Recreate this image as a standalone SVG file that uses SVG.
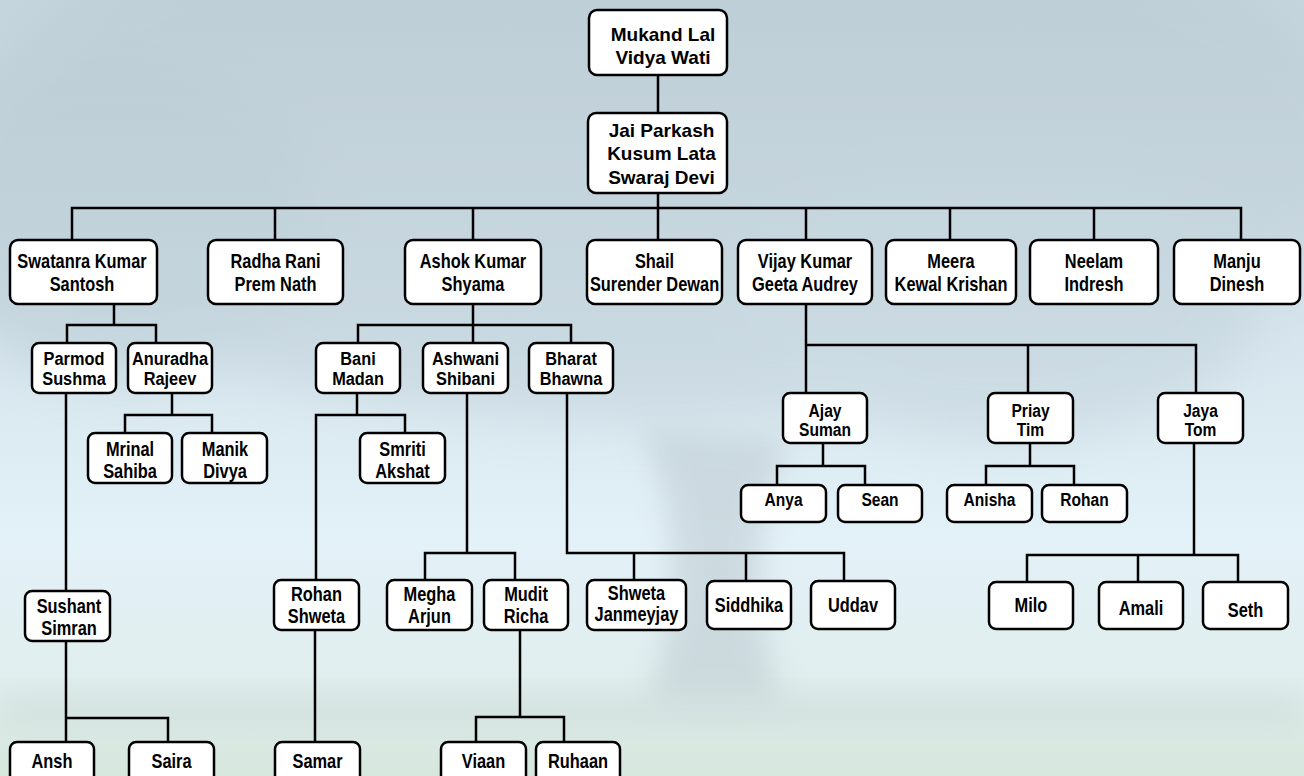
<svg xmlns="http://www.w3.org/2000/svg" width="1304" height="776" viewBox="0 0 1304 776">
<style>
.box{fill:#fff;stroke:#000;stroke-width:2.5}
.t{font-family:"Liberation Sans",Arial,sans-serif;font-weight:bold;font-size:20px;text-anchor:middle;fill:#000}
.s{font-size:19px}
.w{font-size:19px}
.c{fill:none;stroke:#000;stroke-width:2.5;stroke-linecap:square}
</style>
<defs>
<linearGradient id="sky" x1="0" y1="0" x2="0" y2="1">
<stop offset="0" stop-color="#c6d6de"/>
<stop offset="0.4" stop-color="#d5e4ec"/>
<stop offset="0.7" stop-color="#e3f1f8"/>
<stop offset="0.88" stop-color="#e0eeee"/>
<stop offset="1" stop-color="#d6e7dd"/>
</linearGradient>
<filter id="blur" x="-20%" y="-20%" width="140%" height="140%"><feGaussianBlur stdDeviation="25"/></filter>
<filter id="blur2" x="-30%" y="-30%" width="160%" height="160%"><feGaussianBlur stdDeviation="14"/></filter>
</defs>
<g id="background">
<rect width="1304" height="776" fill="url(#sky)"/>
<g filter="url(#blur)" opacity="0.35">
<ellipse cx="660" cy="150" rx="720" ry="270" fill="#b2c3cc"/>
<ellipse cx="120" cy="220" rx="200" ry="160" fill="#a9bbc4"/>
<ellipse cx="1000" cy="300" rx="260" ry="140" fill="#b6c7cf"/>
</g>
<path d="M640 430 C680 500 680 600 650 700 L780 700 C755 610 750 520 790 440 Z" fill="#b8c6cc" opacity="0.5" filter="url(#blur2)"/>
<rect x="0" y="690" width="1304" height="40" fill="#cbd9d5" opacity="0.45" filter="url(#blur2)"/>
</g>
<g id="connectors">
<path class="c" d="M658 75V113 M658 193V240 M72 208H1241 M72 208V240 M275 208V240 M473 208V240 M806 208V240 M950 208V240 M1094 208V240 M1241 208V240
M114 304V325 M67 325H156 M67 325V343 M156 325V343
M66 393V591
M172 393V415 M125 415H212 M125 415V433 M212 415V433
M66 641V718 M66 718H168 M66 718V742 M168 718V742
M473 304V343 M358 325H571 M358 325V343 M571 325V343
M357 393V415 M316 415H405 M316 415V580 M405 415V433
M315 630V742
M467 393V553 M425 553H515 M425 553V580 M515 553V580
M520 630V717 M476 717H564 M476 717V742 M564 717V742
M567 393V553 M567 553H844 M634 553V580 M746 553V581 M844 553V581
M806 304V393 M806 345H1196 M1028 345V393 M1196 345V393
M823 443V466 M777 466H865 M777 466V485 M865 466V485
M1030 443V466 M986 466H1074 M986 466V485 M1074 466V485
M1194 443V555 M1027 555H1238 M1027 555V582 M1138 555V582 M1238 555V582"/>
</g>
<g id="n-mukand"><rect class="box" x="589" y="10" width="138" height="65" rx="8"/><text class="t w"><tspan x="663" y="40.5">Mukand Lal</tspan><tspan x="663" y="64">Vidya Wati</tspan></text></g>
<g id="n-jai"><rect class="box" x="588" y="113" width="139" height="80" rx="8"/><text class="t w"><tspan x="661.5" y="137">Jai Parkash</tspan><tspan x="661.5" y="160">Kusum Lata</tspan><tspan x="661.5" y="183.5">Swaraj Devi</tspan></text></g>
<g id="n-swatanra"><rect class="box" x="10" y="240" width="147" height="64" rx="8"/><text class="t" transform="matrix(0.82 0 0 1 82 0)"><tspan x="0" y="268.5">Swatanra Kumar</tspan><tspan x="0" y="291.5">Santosh</tspan></text></g>
<g id="n-radha"><rect class="box" x="208" y="240" width="135" height="64" rx="8"/><text class="t" transform="matrix(0.82 0 0 1 275.5 0)"><tspan x="0" y="268.5">Radha Rani</tspan><tspan x="0" y="291.5">Prem Nath</tspan></text></g>
<g id="n-ashok"><rect class="box" x="405" y="240" width="136" height="64" rx="8"/><text class="t" transform="matrix(0.82 0 0 1 473 0)"><tspan x="0" y="268.5">Ashok Kumar</tspan><tspan x="0" y="291.5">Shyama</tspan></text></g>
<g id="n-shail"><rect class="box" x="587" y="240" width="135" height="64" rx="8"/><text class="t" transform="matrix(0.82 0 0 1 654.5 0)"><tspan x="0" y="268.5">Shail</tspan><tspan x="0" y="291.5">Surender Dewan</tspan></text></g>
<g id="n-vijay"><rect class="box" x="738" y="240" width="134" height="64" rx="8"/><text class="t" transform="matrix(0.82 0 0 1 805 0)"><tspan x="0" y="268.5">Vijay Kumar</tspan><tspan x="0" y="291.5">Geeta Audrey</tspan></text></g>
<g id="n-meera"><rect class="box" x="886" y="240" width="130" height="64" rx="8"/><text class="t" transform="matrix(0.82 0 0 1 951 0)"><tspan x="0" y="268.5">Meera</tspan><tspan x="0" y="291.5">Kewal Krishan</tspan></text></g>
<g id="n-neelam"><rect class="box" x="1030" y="240" width="128" height="64" rx="8"/><text class="t" transform="matrix(0.82 0 0 1 1094 0)"><tspan x="0" y="268.5">Neelam</tspan><tspan x="0" y="291.5">Indresh</tspan></text></g>
<g id="n-manju"><rect class="box" x="1174" y="240" width="126" height="64" rx="8"/><text class="t" transform="matrix(0.82 0 0 1 1237 0)"><tspan x="0" y="268.5">Manju</tspan><tspan x="0" y="291.5">Dinesh</tspan></text></g>
<g id="n-parmod"><rect class="box" x="32" y="343" width="84" height="50" rx="7"/><text class="t s" transform="matrix(0.86 0 0 1 74 0)"><tspan x="0" y="365">Parmod</tspan><tspan x="0" y="385">Sushma</tspan></text></g>
<g id="n-anuradha"><rect class="box" x="128" y="343" width="84" height="50" rx="7"/><text class="t s" transform="matrix(0.86 0 0 1 170 0)"><tspan x="0" y="365">Anuradha</tspan><tspan x="0" y="385">Rajeev</tspan></text></g>
<g id="n-bani"><rect class="box" x="316" y="343" width="84" height="50" rx="7"/><text class="t s" transform="matrix(0.86 0 0 1 358 0)"><tspan x="0" y="365">Bani</tspan><tspan x="0" y="385">Madan</tspan></text></g>
<g id="n-ashwani"><rect class="box" x="423" y="343" width="85" height="50" rx="7"/><text class="t s" transform="matrix(0.86 0 0 1 465.5 0)"><tspan x="0" y="365">Ashwani</tspan><tspan x="0" y="385">Shibani</tspan></text></g>
<g id="n-bharat"><rect class="box" x="529" y="343" width="84" height="50" rx="7"/><text class="t s" transform="matrix(0.86 0 0 1 571 0)"><tspan x="0" y="365">Bharat</tspan><tspan x="0" y="385">Bhawna</tspan></text></g>
<g id="n-mrinal"><rect class="box" x="88" y="433" width="84" height="50" rx="7"/><text class="t" transform="matrix(0.82 0 0 1 130 0)"><tspan x="0" y="456.5">Mrinal</tspan><tspan x="0" y="478.5">Sahiba</tspan></text></g>
<g id="n-manik"><rect class="box" x="182" y="433" width="85" height="50" rx="7"/><text class="t" transform="matrix(0.82 0 0 1 225 0)"><tspan x="0" y="456.5">Manik</tspan><tspan x="0" y="478.5">Divya</tspan></text></g>
<g id="n-smriti"><rect class="box" x="360" y="433" width="85" height="50" rx="7"/><text class="t" transform="matrix(0.82 0 0 1 402.5 0)"><tspan x="0" y="456.5">Smriti</tspan><tspan x="0" y="478.5">Akshat</tspan></text></g>
<g id="n-sushant"><rect class="box" x="25" y="591" width="85" height="50" rx="7"/><text class="t" transform="matrix(0.82 0 0 1 69 0)"><tspan x="0" y="613.5">Sushant</tspan><tspan x="0" y="635.5">Simran</tspan></text></g>
<g id="n-rohan-shweta"><rect class="box" x="274" y="580" width="85" height="50" rx="7"/><text class="t" transform="matrix(0.82 0 0 1 316.5 0)"><tspan x="0" y="601.5">Rohan</tspan><tspan x="0" y="623.5">Shweta</tspan></text></g>
<g id="n-megha"><rect class="box" x="387" y="580" width="85" height="50" rx="7"/><text class="t" transform="matrix(0.82 0 0 1 429.5 0)"><tspan x="0" y="601.5">Megha</tspan><tspan x="0" y="623.5">Arjun</tspan></text></g>
<g id="n-mudit"><rect class="box" x="484" y="580" width="84" height="50" rx="7"/><text class="t" transform="matrix(0.82 0 0 1 526 0)"><tspan x="0" y="601.5">Mudit</tspan><tspan x="0" y="623.5">Richa</tspan></text></g>
<g id="n-shweta"><rect class="box" x="587" y="580" width="99" height="50" rx="7"/><text class="t" transform="matrix(0.82 0 0 1 636.5 0)"><tspan x="0" y="600.5">Shweta</tspan><tspan x="0" y="621.5">Janmeyjay</tspan></text></g>
<g id="n-siddhika"><rect class="box" x="707" y="581" width="84" height="48" rx="7"/><text class="t" transform="matrix(0.82 0 0 1 749 0)" x="0" y="612.5">Siddhika</text></g>
<g id="n-uddav"><rect class="box" x="811" y="581" width="84" height="48" rx="7"/><text class="t" transform="matrix(0.82 0 0 1 853 0)" x="0" y="612.5">Uddav</text></g>
<g id="n-ajay"><rect class="box" x="783" y="393" width="84" height="50" rx="7"/><text class="t s" transform="matrix(0.82 0 0 1 825 0)"><tspan x="0" y="417">Ajay</tspan><tspan x="0" y="436.5">Suman</tspan></text></g>
<g id="n-priay"><rect class="box" x="988" y="393" width="85" height="50" rx="7"/><text class="t s" transform="matrix(0.82 0 0 1 1030.5 0)"><tspan x="0" y="417">Priay</tspan><tspan x="0" y="436.5">Tim</tspan></text></g>
<g id="n-jaya"><rect class="box" x="1158" y="393" width="85" height="50" rx="7"/><text class="t s" transform="matrix(0.82 0 0 1 1200.5 0)"><tspan x="0" y="417">Jaya</tspan><tspan x="0" y="436.5">Tom</tspan></text></g>
<g id="n-anya"><rect class="box" x="741" y="485" width="85" height="37" rx="7"/><text class="t s" transform="matrix(0.82 0 0 1 783.5 0)" x="0" y="506.5">Anya</text></g>
<g id="n-sean"><rect class="box" x="838" y="485" width="84" height="37" rx="7"/><text class="t s" transform="matrix(0.82 0 0 1 880 0)" x="0" y="506.5">Sean</text></g>
<g id="n-anisha"><rect class="box" x="947" y="485" width="85" height="37" rx="7"/><text class="t s" transform="matrix(0.82 0 0 1 989.5 0)" x="0" y="506.5">Anisha</text></g>
<g id="n-rohan"><rect class="box" x="1042" y="485" width="85" height="37" rx="7"/><text class="t s" transform="matrix(0.82 0 0 1 1084.5 0)" x="0" y="506.5">Rohan</text></g>
<g id="n-milo"><rect class="box" x="989" y="582" width="84" height="47" rx="7"/><text class="t" transform="matrix(0.82 0 0 1 1031 0)" x="0" y="612.5">Milo</text></g>
<g id="n-amali"><rect class="box" x="1099" y="582" width="84" height="47" rx="7"/><text class="t" transform="matrix(0.82 0 0 1 1141 0)" x="0" y="615">Amali</text></g>
<g id="n-seth"><rect class="box" x="1203" y="582" width="85" height="47" rx="7"/><text class="t" transform="matrix(0.82 0 0 1 1245.5 0)" x="0" y="617">Seth</text></g>
<g id="n-ansh"><rect class="box" x="10" y="742" width="84" height="50" rx="7"/><text class="t" transform="matrix(0.82 0 0 1 52 0)" x="0" y="768.5">Ansh</text></g>
<g id="n-saira"><rect class="box" x="129" y="742" width="85" height="50" rx="7"/><text class="t" transform="matrix(0.82 0 0 1 171.5 0)" x="0" y="768.5">Saira</text></g>
<g id="n-samar"><rect class="box" x="275" y="742" width="85" height="50" rx="7"/><text class="t" transform="matrix(0.82 0 0 1 317.5 0)" x="0" y="768.5">Samar</text></g>
<g id="n-viaan"><rect class="box" x="441" y="742" width="85" height="50" rx="7"/><text class="t" transform="matrix(0.82 0 0 1 483.5 0)" x="0" y="768.5">Viaan</text></g>
<g id="n-ruhaan"><rect class="box" x="536" y="742" width="84" height="50" rx="7"/><text class="t" transform="matrix(0.82 0 0 1 578 0)" x="0" y="768.5">Ruhaan</text></g>
</svg>
